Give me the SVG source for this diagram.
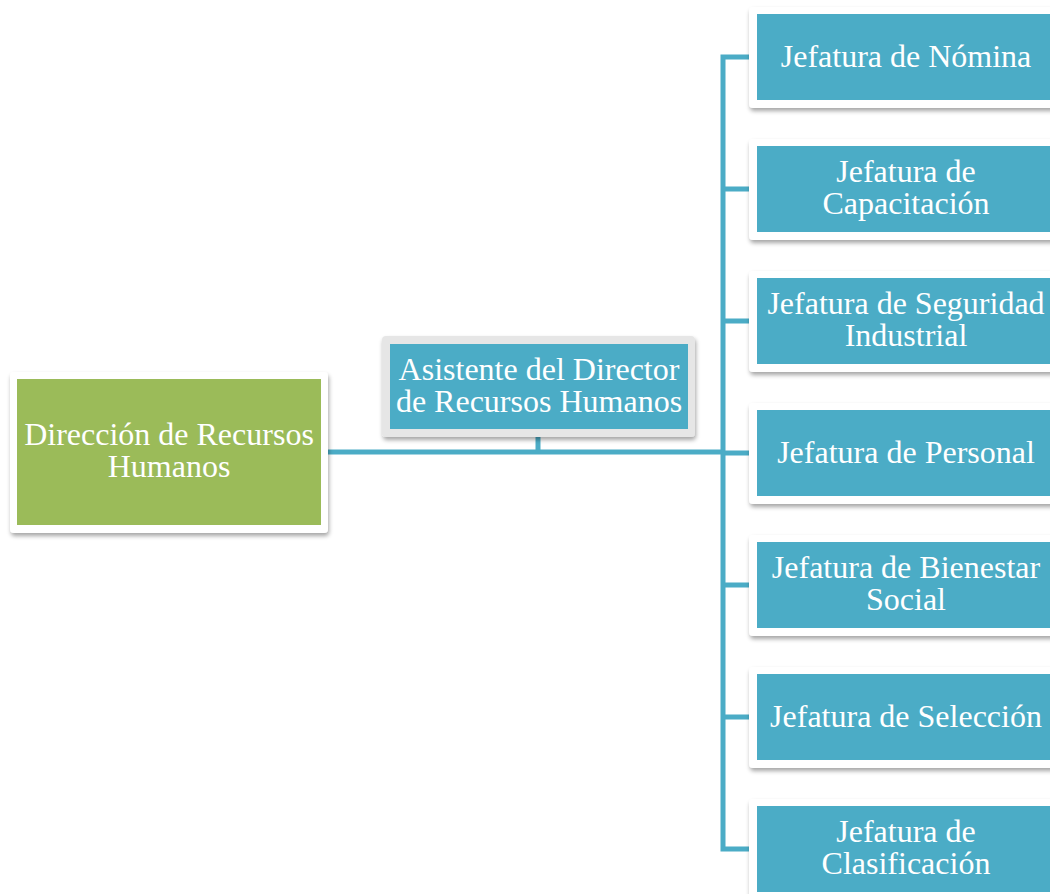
<svg xmlns="http://www.w3.org/2000/svg" width="1050" height="894" viewBox="0 0 1050 894">
<defs>
<filter id="sh" x="-10%" y="-10%" width="120%" height="130%">
<feDropShadow dx="1" dy="3" stdDeviation="2" flood-color="#000" flood-opacity="0.35"/>
</filter>
<style>
.frame{fill:#ffffff;filter:url(#sh)}
.gframe{fill:#e6e6e6;filter:url(#sh)}
.blue{fill:#4bacc6}
.green{fill:#9bbb59}
.t{font-family:"Liberation Serif","Times New Roman",serif;font-size:32px;fill:#ffffff;text-anchor:middle}
.c{fill:none;stroke:#4bacc6;stroke-width:5}
</style>
</defs>
<rect width="1050" height="894" fill="#ffffff"/>
<g id="connectors">
<path class="c" d="M328 452 H723"/>
<path class="c" d="M538 437 V452"/>
<path class="c" d="M749 57 H723 V849 H749"/>
<path class="c" d="M723 189 H749 M723 321 H749 M723 453 H749 M723 585 H749 M723 717 H749"/>
</g>
<g id="n-direccion">
<rect class="frame" x="10" y="372" width="318" height="161" rx="4"/>
<rect class="green" x="17" y="379" width="304" height="146"/>
<text class="t" x="169" y="445">Dirección de Recursos</text>
<text class="t" x="169" y="477">Humanos</text>
</g>
<g id="n-asistente">
<rect class="gframe" x="382" y="336" width="313" height="101" rx="4"/>
<rect class="blue" x="390" y="344" width="298" height="85"/>
<text class="t" x="539" y="380">Asistente del Director</text>
<text class="t" x="539" y="412">de Recursos Humanos</text>
</g>
<g id="n-nomina">
<rect class="frame" x="749" y="7" width="310" height="101" rx="4"/>
<rect class="blue" x="757" y="14" width="298" height="86"/>
<text class="t" x="906" y="67">Jefatura de Nómina</text>
</g>
<g id="n-capacitacion">
<rect class="frame" x="749" y="139" width="310" height="101" rx="4"/>
<rect class="blue" x="757" y="146" width="298" height="86"/>
<text class="t" x="906" y="182">Jefatura de</text>
<text class="t" x="906" y="214">Capacitación</text>
</g>
<g id="n-seguridad">
<rect class="frame" x="749" y="271" width="310" height="101" rx="4"/>
<rect class="blue" x="757" y="278" width="298" height="86"/>
<text class="t" x="906" y="314">Jefatura de Seguridad</text>
<text class="t" x="906" y="346">Industrial</text>
</g>
<g id="n-personal">
<rect class="frame" x="749" y="403" width="310" height="101" rx="4"/>
<rect class="blue" x="757" y="410" width="298" height="86"/>
<text class="t" x="906" y="463">Jefatura de Personal</text>
</g>
<g id="n-bienestar">
<rect class="frame" x="749" y="535" width="310" height="101" rx="4"/>
<rect class="blue" x="757" y="542" width="298" height="86"/>
<text class="t" x="906" y="578">Jefatura de Bienestar</text>
<text class="t" x="906" y="610">Social</text>
</g>
<g id="n-seleccion">
<rect class="frame" x="749" y="667" width="310" height="101" rx="4"/>
<rect class="blue" x="757" y="674" width="298" height="86"/>
<text class="t" x="906" y="727">Jefatura de Selección</text>
</g>
<g id="n-clasificacion">
<rect class="frame" x="749" y="799" width="310" height="101" rx="4"/>
<rect class="blue" x="757" y="806" width="298" height="86"/>
<text class="t" x="906" y="842">Jefatura de</text>
<text class="t" x="906" y="874">Clasificación</text>
</g>
</svg>
